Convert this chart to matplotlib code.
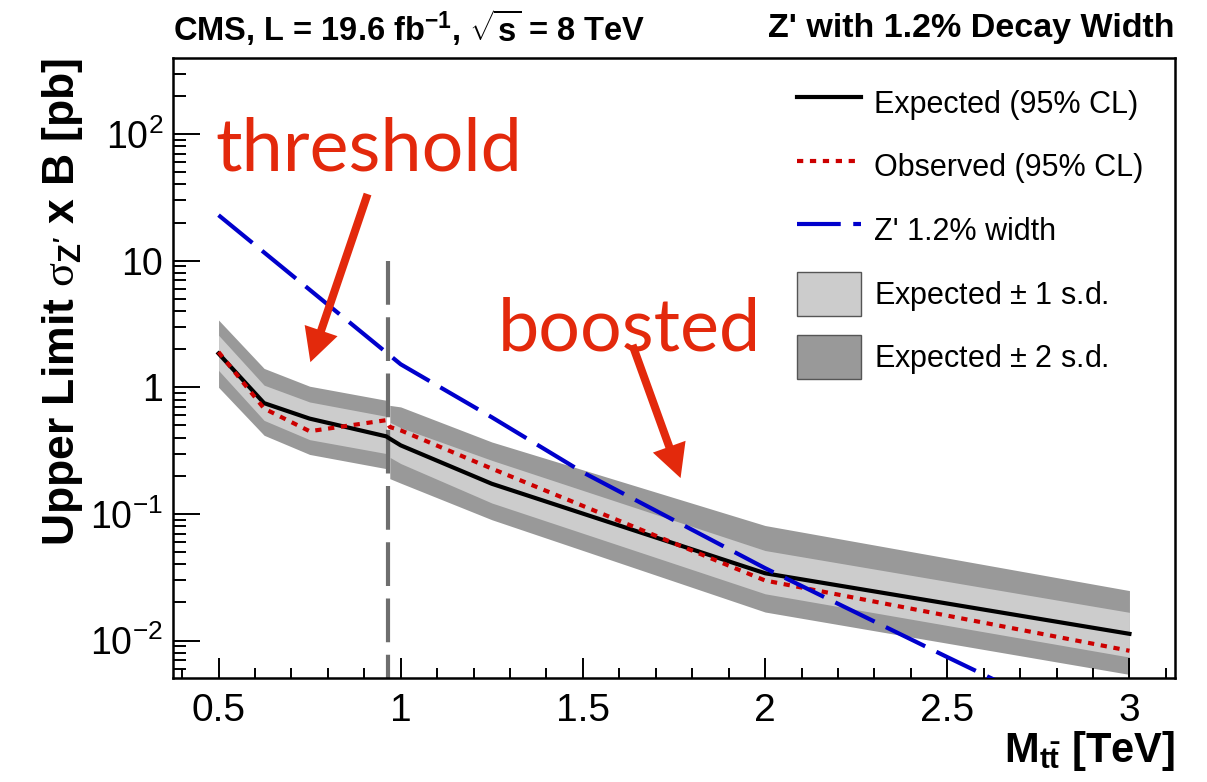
import matplotlib
matplotlib.use('Agg')
import matplotlib.pyplot as plt
from matplotlib.lines import Line2D
from matplotlib.patches import Patch
from matplotlib.ticker import FixedLocator, FixedFormatter, MultipleLocator, LogLocator, NullFormatter

# --- datos (M_tt en TeV, limites en pb) ---
mass = [0.5, 0.625, 0.75, 0.96, 0.97, 1.0, 1.25, 2.0, 3.0]
n_thr = 4  # los 4 primeros puntos son del analisis "threshold"
exp_limit = [1.85, 0.75, 0.566, 0.41, 0.393, 0.348, 0.173, 0.034, 0.0113]
obs_limit = [1.9, 0.68, 0.45, 0.55, 0.486, 0.457, 0.228, 0.0298, 0.0083]
exp_1sd_lo = [1.36, 0.548, 0.386, 0.30, 0.28, 0.25, 0.122, 0.0234, 0.0074]
exp_1sd_hi = [2.58, 1.04, 0.766, 0.59, 0.53, 0.48, 0.265, 0.0514, 0.0167]
exp_2sd_lo = [1.0, 0.418, 0.295, 0.228, 0.19, 0.175, 0.09, 0.0168, 0.0054]
exp_2sd_hi = [3.4, 1.41, 1.02, 0.79, 0.72, 0.70, 0.37, 0.081, 0.0248]

zp_mass = [0.5, 1.0, 1.25, 1.5, 2.0, 2.5, 3.0]
zp_xsec = [22.9, 1.52, 0.58, 0.213, 0.0373, 0.0074, 0.0015]

boundary_mass = 0.966
boundary_top = 10
boundary_bottom = 0.001

ytick_vals = [0.01, 0.1, 1, 10, 100]
ytick_labels = ['10$^{-2}$', '10$^{-1}$', '1', '10', '10$^{2}$']

legend_labels = ['Expected (95% CL)', 'Observed (95% CL)', "Z' 1.2% width",
                 'Expected $\\pm$ 1 s.d.', 'Expected $\\pm$ 2 s.d.']

# anotaciones (texto, posicion, flecha cola -> punta)
notes = ['threshold', 'boosted']
note_xy = [(0.49, 52), (1.265, 1.97)]
arrow_tail = [(0.909, 33.6), (1.636, 2.16)]
arrow_tip = [(0.752, 1.58), (1.768, 0.192)]

plt.rcParams['font.family'] = ['Liberation Sans', 'DejaVu Sans']
plt.rcParams['mathtext.fontset'] = 'custom'
plt.rcParams['mathtext.rm'] = 'Liberation Sans'
plt.rcParams['mathtext.bf'] = 'Liberation Sans:bold'
plt.rcParams['mathtext.it'] = 'Liberation Sans:italic'
plt.rcParams['mathtext.sf'] = 'Liberation Serif'

W, H = 1207, 782
fig = plt.figure(figsize=(W / 100, H / 100), dpi=100)
ax = fig.add_axes([173 / W, 1 - 678 / H, (1175 - 173) / W, (678 - 58) / H])

# bandas (dos tramos separados)
for sl in (slice(0, n_thr), slice(n_thr, None)):
    ax.fill_between(mass[sl], exp_2sd_lo[sl], exp_2sd_hi[sl], color='#999999', lw=0, zorder=1)
    ax.fill_between(mass[sl], exp_1sd_lo[sl], exp_1sd_hi[sl], color='#cccccc', lw=0, zorder=1.1)

# linea vertical: se dibuja de arriba hacia abajo para que el trazo empiece arriba
ax.plot([boundary_mass, boundary_mass], [boundary_top, boundary_bottom], color='#6e6e6e',
        lw=3, ls=(0, (10.5, 3)), zorder=2)

red = '#cc0000'
blue = '#0000cc'
ax.plot(mass, exp_limit, color='black', lw=3, zorder=3)
ax.plot(mass, obs_limit, color=red, lw=3, ls=(0, (1.5, 1.6)), zorder=3.1)
ax.plot(zp_mass, zp_xsec, color=blue, lw=3, ls=(0, (10.5, 3)), zorder=3.2)

ax.set_yscale('log')
ax.set_xlim(0.375, 3.125)
ax.set_ylim(0.00506, 399)

ax.xaxis.set_major_locator(MultipleLocator(0.5))
ax.xaxis.set_minor_locator(MultipleLocator(0.1))
ax.xaxis.set_major_formatter(plt.FuncFormatter(lambda v, p: f'{v:g}'))
ax.yaxis.set_major_locator(FixedLocator(ytick_vals))
ax.yaxis.set_major_formatter(FixedFormatter(ytick_labels))
ax.yaxis.set_minor_locator(LogLocator(base=10, subs=range(2, 10)))
ax.yaxis.set_minor_formatter(NullFormatter())

ax.tick_params(axis='both', which='both', direction='in', top=False, right=False, width=1.4)
ax.tick_params(axis='x', which='major', length=14.4, labelsize=28, pad=11)
ax.tick_params(axis='x', which='minor', length=7.2)
ax.tick_params(axis='y', which='major', length=19.4, labelsize=27, pad=7)
ax.tick_params(axis='y', which='minor', length=9.4)
for s in ax.spines.values():
    s.set_linewidth(1.8)

ax.set_ylabel("Upper Limit $\\mathsf{\\sigma}_{\\mathbf{Z'}}$ x B [pb]", fontsize=32,
              fontweight='bold', loc='top')
ax.yaxis.set_label_coords(-0.088, 1.0)
ax.set_xlabel('M$_{\\mathbf{t\\bar{t}}}$ [TeV]', fontsize=30, fontweight='bold', loc='right')
ax.xaxis.set_label_coords(1.0, -0.083)

fig.text(173 / W, 1 - 28 / H, 'CMS, L = 19.6 fb$^{\\mathbf{-1}}$, $\\sqrt{\\mathbf{s}}$ = 8 TeV',
         fontsize=23.5, fontweight='bold', ha='left', va='center')
fig.text(1175 / W, 1 - 28 / H, "Z' with 1.2% Decay Width",
         fontsize=24.5, fontweight='bold', ha='right', va='center')

# leyenda
handles = [Line2D([], [], color='black', lw=3),
           Line2D([], [], color=red, lw=3, ls=(0, (1.5, 1.6))),
           Line2D([], [], color=blue, lw=3, ls=(0, (10.5, 3))),
           Patch(facecolor='#cccccc', edgecolor='#555555', lw=1),
           Patch(facecolor='#999999', edgecolor='#555555', lw=1)]
ax.legend(handles, legend_labels, loc='upper left', bbox_to_anchor=(797 / W, 1 - 81 / H),
          bbox_transform=fig.transFigure, frameon=False, fontsize=22, handlelength=2.1,
          handleheight=1.84, handletextpad=0.42, labelspacing=0.64, borderpad=0, borderaxespad=0)

# anotaciones en rojo
note_red = '#e3290c'
for txt, xy, tail, tip in zip(notes, note_xy, arrow_tail, arrow_tip):
    ax.text(xy[0], xy[1], txt, color=note_red, fontsize=53, family=['Lato', 'DejaVu Sans'],
            ha='left', va='baseline', zorder=5)
    ax.annotate('', xy=tip, xytext=tail, zorder=5,
                arrowprops=dict(width=5.8, headwidth=25, headlength=24, color=note_red, lw=0))

fig.savefig('out.png', dpi=100)
